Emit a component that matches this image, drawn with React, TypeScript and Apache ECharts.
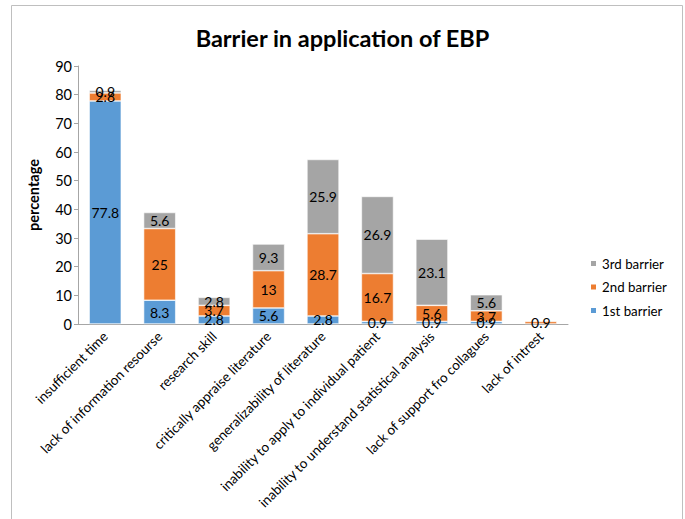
import React, { useEffect, useRef } from "react";
import * as echarts from "echarts";

const categories = [
  "insufficient time",
  "lack of information resourse",
  "research skill",
  "critically appraise literature",
  "generalizability of literature",
  "inability to apply to individual patient",
  "inability to understand statistical analysis",
  "lack of support fro collagues",
  "lack of intrest",
];

const firstBarrier = [77.8, 8.3, 2.8, 5.6, 2.8, 0.9, 0.9, 0.9, null];
const secondBarrier = [2.8, 25, 3.7, 13, 28.7, 16.7, 5.6, 3.7, 0.9];
const thirdBarrier = [0.9, 5.6, 2.8, 9.3, 25.9, 26.9, 23.1, 5.6, null];

const yTicks = { min: 0, max: 90, interval: 10 };

const FONT = "Lato, 'Liberation Sans', sans-serif";

export default function App() {
  const ref = useRef<HTMLDivElement>(null);

  useEffect(() => {
    if (!ref.current) return;
    const chart = echarts.init(ref.current, undefined, { renderer: "svg" });

    const seg = (name: string, data: (number | null)[], color: string) => ({
      name,
      type: "bar",
      stack: "total",
      data,
      barCategoryGap: "41%",
      itemStyle: { color, borderColor: "#ffffff", borderWidth: 0.6 },
      label: {
        show: true,
        position: "inside",
        color: "#000000",
        fontFamily: FONT,
        fontSize: 14,
        formatter: (p: any) => (p.value == null ? "" : String(p.value)),
      },
    });

    chart.setOption({
      animation: false,
      backgroundColor: "#ffffff",
      textStyle: { fontFamily: FONT },
      title: {
        text: "Barrier in application of EBP",
        left: "center",
        top: 21,
        textStyle: { fontFamily: FONT, fontSize: 23.5, fontWeight: "bold", color: "#000000" },
      },
      legend: {
        orient: "vertical",
        left: 584,
        top: 252,
        itemWidth: 7,
        itemHeight: 7,
        itemGap: 10.5,
        icon: "rect",
        data: ["3rd barrier", "2nd barrier", "1st barrier"],
        textStyle: { fontFamily: FONT, fontSize: 13.3, color: "#000000" },
      },
      grid: { left: 78, right: 117, top: 66, bottom: 195, containLabel: false },
      xAxis: {
        type: "category",
        data: categories,
        axisLine: { lineStyle: { color: "#a6a6a6" } },
        axisTick: { show: false },
        axisLabel: {
          rotate: 45,
          interval: 0,
          margin: 10,
          color: "#000000",
          fontFamily: FONT,
          fontSize: 13.5,
        },
      },
      yAxis: {
        type: "value",
        min: yTicks.min,
        max: yTicks.max,
        interval: yTicks.interval,
        name: "percentage",
        nameLocation: "middle",
        nameGap: 37,
        nameTextStyle: { fontFamily: FONT, fontSize: 14.5, fontWeight: "bold", color: "#000000" },
        axisLine: { show: true, lineStyle: { color: "#a6a6a6" } },
        axisTick: { show: true, length: 4, lineStyle: { color: "#a6a6a6" } },
        splitLine: { show: false },
        axisLabel: { color: "#000000", fontFamily: FONT, fontSize: 14.5, margin: 6 },
      },
      graphic: [
        {
          type: "rect",
          shape: { x: 11.5, y: 5.5, width: 671, height: 540 },
          style: { fill: "none", stroke: "#bfbfbf", lineWidth: 1 },
          silent: true,
        },
      ],
      series: [
        seg("1st barrier", firstBarrier, "#5B9BD5"),
        seg("2nd barrier", secondBarrier, "#ED7D31"),
        seg("3rd barrier", thirdBarrier, "#A5A5A5"),
      ],
    });

    return () => chart.dispose();
  }, []);

  return (
    <div
      ref={ref}
      style={{ position: "fixed", left: 0, top: 0, width: 685, height: 519 }}
    />
  );
}
